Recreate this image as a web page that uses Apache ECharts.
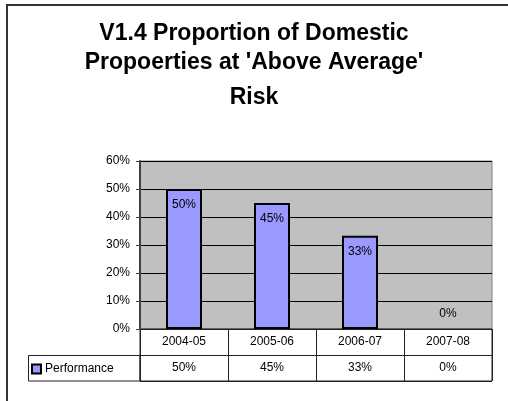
<!DOCTYPE html>
<html>
<head>
<meta charset="utf-8">
<script src="https://cdn.jsdelivr.net/npm/echarts@6/dist/echarts.min.js"></script>
<style>html,body{margin:0;padding:0;background:#fff;}#c{width:508px;height:401px;}</style>
</head>
<body>
<div id="c"></div>
<script>
var titleLines = ["V1.4 Proportion of Domestic", "Propoerties at 'Above Average'"];
var titleLast = "Risk";
var categories = ['2004-05', '2005-06', '2006-07', '2007-08'];
var seriesName = 'Performance';
var values = [50, 45, 33.3, 0];
var yTicks = { min: 0, max: 60, interval: 10 };

var FONT = '"Liberation Sans", Arial, sans-serif';
var chart = echarts.init(document.getElementById('c'));

function pct(v) { return Math.round(v) + '%'; }

var barData = values.map(function (v) {
  return v === 0
    ? { value: v, itemStyle: { borderWidth: 0 }, label: { position: 'top', distance: 9 } }
    : { value: v };
});

var titleStyle = { fontFamily: FONT, fontSize: 23, fontWeight: 'bold', color: '#000', lineHeight: 29 };

chart.setOption({
  animation: false,
  backgroundColor: '#fff',
  title: {
    text: titleLines.join('\n'),
    subtext: titleLast,
    left: 'center',
    top: 14,
    padding: [5, 0, 5, 12],
    itemGap: 6,
    textStyle: titleStyle,
    subtextStyle: titleStyle
  },
  legend: {
    data: [seriesName],
    left: 31,
    top: 363,
    padding: 0,
    itemWidth: 9,
    itemHeight: 9,
    icon: 'rect',
    textStyle: { fontFamily: FONT, fontSize: 12, color: '#000', padding: [0, 0, 0, -1] }
  },
  grid: [
    { left: 140, right: 16, top: 161, height: 168, show: true, backgroundColor: '#c0c0c0', borderColor: '#808080', borderWidth: 1 },
    { left: 140, right: 16, top: 329, height: 52, show: true, backgroundColor: '#fff', borderColor: '#222', borderWidth: 1 }
  ],
  xAxis: [
    {
      type: 'category', gridIndex: 0, data: categories,
      axisLine: { show: false }, axisTick: { show: false },
      axisLabel: { margin: 7, fontFamily: FONT, fontSize: 12, color: '#000' }
    },
    {
      type: 'category', gridIndex: 1, data: values.map(pct),
      axisLine: { show: false }, axisTick: { show: false },
      axisLabel: { inside: true, margin: 7, fontFamily: FONT, fontSize: 12, color: '#000' },
      splitLine: { show: true, interval: 0, lineStyle: { color: '#222', width: 1 } }
    }
  ],
  yAxis: [
    {
      type: 'value', gridIndex: 0, min: yTicks.min, max: yTicks.max, interval: yTicks.interval,
      axisLine: { show: true, lineStyle: { color: '#404040', width: 2 } },
      axisTick: { show: true, length: 4, lineStyle: { color: '#404040', width: 1 } },
      axisLabel: { formatter: '{value}%', margin: 10, fontFamily: FONT, fontSize: 12, color: '#000' },
      splitLine: { show: true, lineStyle: { color: '#000', width: 1 } }
    },
    {
      type: 'category', gridIndex: 1, data: ['a', 'b'],
      axisLine: { show: false }, axisTick: { show: false }, axisLabel: { show: false },
      splitLine: { show: true, interval: 0, lineStyle: { color: '#222', width: 1 } }
    }
  ],
  graphic: [
    { type: 'rect', shape: { x: 7, y: 5, width: 520, height: 420 }, style: { fill: 'none', stroke: '#333', lineWidth: 2 }, silent: true },
    { type: 'rect', shape: { x: 28.5, y: 355.5, width: 111.5, height: 25.5 }, style: { fill: 'none', stroke: '#222', lineWidth: 1 }, silent: true }
  ],
  series: [
    {
      name: seriesName,
      type: 'bar',
      xAxisIndex: 0, yAxisIndex: 0,
      data: barData,
      barWidth: 36,
      itemStyle: { color: '#9999ff', borderColor: '#000', borderWidth: 2 },
      label: {
        show: true, position: 'insideTop', distance: 10,
        formatter: function (p) { return pct(p.value); },
        fontFamily: FONT, fontSize: 12, color: '#000'
      }
    }
  ]
});
</script>
</body>
</html>
